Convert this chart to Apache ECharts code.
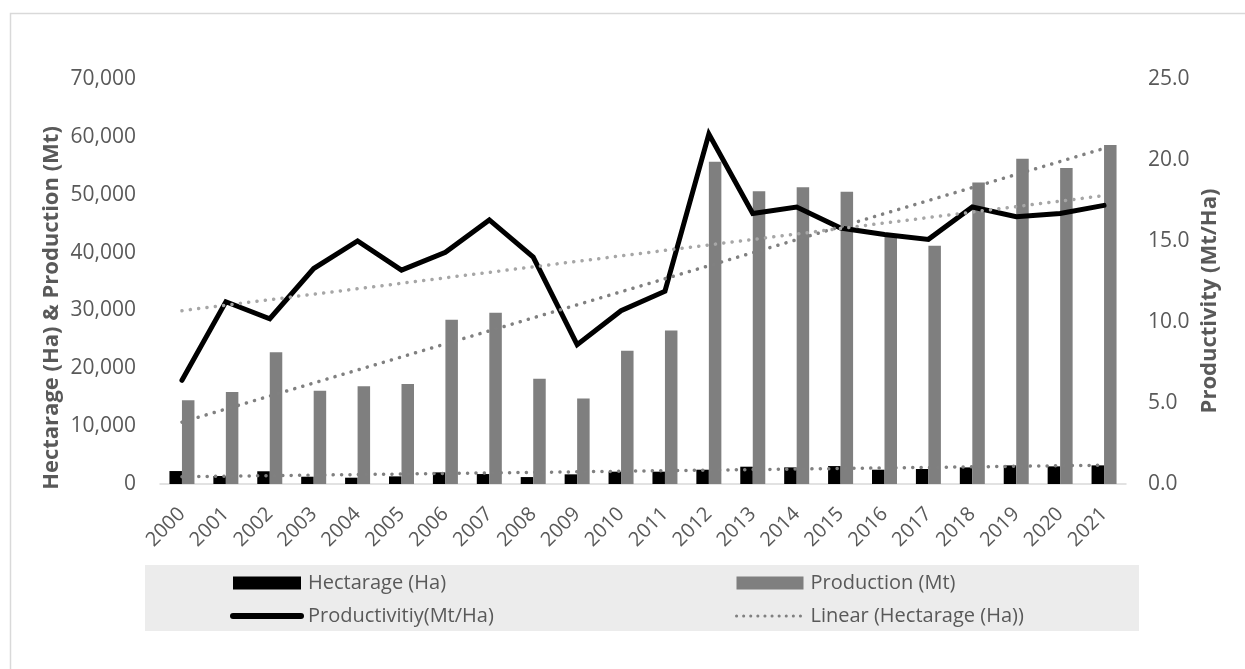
<!DOCTYPE html>
<html>
<head>
<meta charset="utf-8">
<title>Hectarage, Production and Productivity</title>
<script src="https://cdn.jsdelivr.net/npm/echarts@6/dist/echarts.min.js"></script>
<style>
  html, body { margin: 0; padding: 0; background: #fff; }
  #main { width: 1245px; height: 669px; }
</style>
</head>
<body>
<div id="main"></div>
<script>
// values
var years = ["2000", "2001", "2002", "2003", "2004", "2005", "2006", "2007", "2008", "2009", "2010",
  "2011", "2012", "2013", "2014", "2015", "2016", "2017", "2018", "2019", "2020", "2021"];
var hectarage = [2240, 1380, 2200, 1260, 1090, 1320, 2010, 1720, 1200, 1670, 2130,
  2130, 2470, 2990, 2870, 3100, 2470, 2590, 2870, 3220, 3050, 3220];
var production = [14480, 15900, 22760, 16100, 16900, 17300, 28400, 29600, 18200, 14770, 23050,
  26550, 55700, 50600, 51300, 50500, 43000, 41200, 52100, 56200, 54600, 58600];
var productivity = [6.4, 11.25, 10.2, 13.3, 15.0, 13.2, 14.3, 16.3, 14.0, 8.6, 10.7,
  11.9, 21.6, 16.7, 17.1, 15.8, 15.4, 15.1, 17.1, 16.5, 16.7, 17.2];
// trend line end points (first and last year)
var trendHectarage = [1250, 3250];
var trendProduction = [10700, 58000];
var trendProductivity = [10.7, 17.8];
var leftTicks = [0, 70000, 10000];
var rightTicks = [0, 25, 5];

var font = "'Open Sans', 'Noto Sans', sans-serif";
var grey = "#595959";
var dots = { width: 3.5, type: [0.1, 8.3], cap: "round" };

function endPoints(v) {
  return [[years[0], v[0]], [years[years.length - 1], v[1]]];
}

function sideTitle(text, x, y) {
  return {
    type: "text",
    x: x,
    y: y,
    rotation: Math.PI / 2,
    style: {
      text: text,
      fill: grey,
      fontSize: 22,
      fontWeight: "bold",
      fontFamily: font,
      align: "center",
      verticalAlign: "middle"
    }
  };
}

var chart = echarts.init(document.getElementById("main"));

var legendText = { fontSize: 20, color: grey, fontFamily: font, padding: [0, 0, 0, 2] };

var option = {
  animation: false,
  textStyle: { fontFamily: font },
  graphic: [
    {
      type: "rect",
      z: -10,
      shape: { x: 10.5, y: 13.5, width: 1400, height: 800 },
      style: { fill: "#fff", stroke: "#d9d9d9", lineWidth: 1.5 }
    },
    {
      type: "rect",
      z: -5,
      shape: { x: 145, y: 565, width: 994, height: 66 },
      style: { fill: "#ececec" }
    },
    sideTitle("Hectarage (Ha) & Production (Mt)", 52, 308),
    sideTitle("Productivity (Mt/Ha)", 1210, 301)
  ],
  grid: { left: 160, right: 119, top: 79, bottom: 185 },
  legend: [
    {
      data: [
        { name: "Hectarage (Ha)", icon: "rect" },
        { name: "Productivitiy(Mt/Ha)", itemStyle: { opacity: 0 }, lineStyle: { width: 6, cap: "round" } }
      ],
      orient: "vertical",
      left: 225,
      top: 568,
      itemWidth: 68,
      itemHeight: 13,
      itemGap: 13,
      textStyle: legendText
    },
    {
      data: [
        { name: "Production (Mt)", icon: "rect" },
        { name: "Linear (Hectarage (Ha))", itemStyle: { opacity: 0 }, lineStyle: { width: 3, type: [0.1, 7], cap: "round" } }
      ],
      orient: "vertical",
      left: 730,
      top: 568,
      itemWidth: 67,
      itemHeight: 13,
      itemGap: 13,
      textStyle: legendText
    }
  ],
  xAxis: {
    type: "category",
    data: years,
    axisLine: { lineStyle: { color: "#d9d9d9", width: 1.5 } },
    axisTick: { show: false },
    axisLabel: { rotate: 45, color: grey, fontSize: 20, margin: 27, interval: 0 }
  },
  yAxis: [
    {
      type: "value",
      min: leftTicks[0],
      max: leftTicks[1],
      interval: leftTicks[2],
      splitLine: { show: false },
      axisLine: { show: false },
      axisTick: { show: false },
      axisLabel: {
        color: grey,
        fontSize: 21,
        margin: 24,
        formatter: function (v) { return v.toLocaleString("en-US"); }
      }
    },
    {
      type: "value",
      min: rightTicks[0],
      max: rightTicks[1],
      interval: rightTicks[2],
      splitLine: { show: false },
      axisLine: { show: false },
      axisTick: { show: false },
      axisLabel: {
        color: grey,
        fontSize: 21,
        margin: 22,
        formatter: function (v) { return v.toFixed(1); }
      }
    }
  ],
  series: [
    {
      name: "Hectarage (Ha)",
      type: "bar",
      data: hectarage,
      barWidth: 12.5,
      barGap: "0%",
      itemStyle: { color: "#000000" }
    },
    {
      name: "Production (Mt)",
      type: "bar",
      data: production,
      barWidth: 12.5,
      barGap: "0%",
      itemStyle: { color: "#7f7f7f" }
    },
    {
      name: "Productivitiy(Mt/Ha)",
      type: "line",
      yAxisIndex: 1,
      data: productivity,
      symbol: "none",
      lineStyle: { color: "#000000", width: 5, join: "miter", cap: "round" },
      itemStyle: { color: "#000000" }
    },
    {
      name: "Linear (Production (Mt))",
      type: "line",
      data: endPoints(trendProduction),
      symbol: "none",
      z: 5,
      lineStyle: Object.assign({ color: "#808080" }, dots)
    },
    {
      name: "Linear (Productivitiy(Mt/Ha))",
      type: "line",
      yAxisIndex: 1,
      data: endPoints(trendProductivity),
      symbol: "none",
      z: 5,
      lineStyle: Object.assign({ color: "#a6a6a6" }, dots)
    },
    {
      name: "Linear (Hectarage (Ha))",
      type: "line",
      data: endPoints(trendHectarage),
      symbol: "none",
      z: 5,
      itemStyle: { color: "#808080" },
      lineStyle: Object.assign({ color: "#808080" }, dots)
    }
  ]
};

chart.setOption(option);
</script>
</body>
</html>
